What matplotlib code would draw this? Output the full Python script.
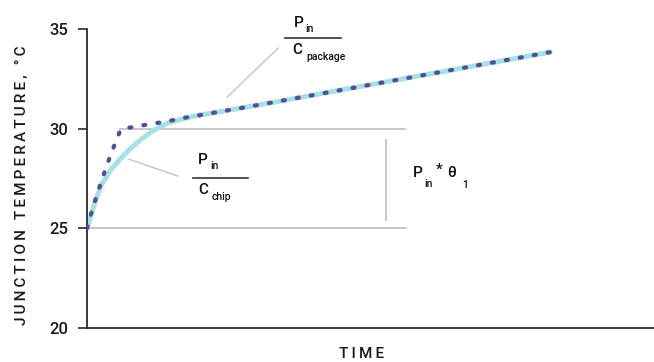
import matplotlib
matplotlib.use("Agg")
import matplotlib.pyplot as plt

# Data (time in arbitrary units, temperature in °C)
chip_time = [0, 0.65, 1.53, 2.70, 4.18, 5.94, 7.71, 9.75, 11.82, 14.16, 17.11, 18.87,
             28.7, 42.9, 62.3, 81.7]
chip_temp = [25.0, 25.6, 26.42, 27.26, 27.93, 28.51, 29.02, 29.51, 29.93, 30.27, 30.51, 30.63,
             31.11, 31.84, 32.84, 33.84]

pkg_time = [0, 1.0, 2.0, 3.0, 4.0, 5.0, 5.9, 6.2, 8.6, 11.2, 13.9, 16.5, 18.9,
            28.7, 42.9, 62.3, 81.7]
pkg_temp = [25.0, 26.0, 26.9, 27.75, 28.55, 29.3, 29.93, 30.0, 30.1, 30.24, 30.35, 30.51, 30.63,
            31.11, 31.84, 32.84, 33.84]

yticks = [20, 25, 30, 35]
ylabel = "JUNCTION TEMPERATURE, °C"
xlabel = "TIME"

plt.rcParams['font.family'] = ['Roboto', 'DejaVu Sans']

fig = plt.figure(figsize=(6.54, 3.62), dpi=100)
ax = fig.add_axes([87/654, 34/362, 1 - 87/654, (328-29)/362])
ax.set_xlim(0, 100)
ax.set_ylim(20, 35)

grey = '#c4c4c4'
# reference lines
ax.plot([5.9, 56.0], [30, 30], color=grey, lw=1.3, zorder=1)
ax.plot([0, 56.2], [25, 25], color=grey, lw=1.3, zorder=1)
ax.plot([52.7, 52.7], [25.42, 29.43], color=grey, lw=1.3, zorder=1)
# leader lines
ax.plot([24.7, 33.7], [31.58, 34.04], color=grey, lw=1.0, zorder=1)
ax.plot([7.4, 16.0], [28.47, 27.62], color=grey, lw=1.0, zorder=1)

ax.plot(chip_time, chip_temp, color='#a6e1e3', lw=3.6, solid_capstyle='round',
        solid_joinstyle='round', zorder=2)
ax.plot(pkg_time, pkg_temp, color='#574c98', lw=3.0, linestyle=(0, (0.5, 2.9)),
        dash_capstyle='round', zorder=3)

for s in ['top', 'right']:
    ax.spines[s].set_visible(False)
for s in ['left', 'bottom']:
    ax.spines[s].set_color('#2b2b2b')
    ax.spines[s].set_linewidth(1.3)

ax.set_xticks([])
ax.set_yticks(yticks)
ax.set_yticklabels([str(v) for v in yticks], fontsize=12, fontweight='medium')
ax.tick_params(axis='y', length=6.5, width=1.2, color='#2b2b2b', pad=7, labelcolor='#1a1a1a')


def spaced(s):
    return "\u2009".join(list(s))


ax.text(-11.5, 27.15, spaced(ylabel), rotation=90, ha='center', va='center', fontsize=11,
        fontweight='medium', color='#1a1a1a', clip_on=False)
ax.text(48.5, 18.7, spaced(xlabel), ha='center', va='center', fontsize=11,
        fontweight='medium', color='#1a1a1a', clip_on=False)

fs_big = 11
fs_small = 7.5
tc = '#111111'


def px2data(px, py):
    return ((px - 87) / 5.67, 20 + (328 - py) / 19.93)


def t(px, py, s, fs, ha='left'):
    x, y = px2data(px, py)
    ax.text(x, y, s, fontsize=fs, ha=ha, va='center', color=tc, fontweight='medium',
            clip_on=False)


# package fraction
t(294, 23, "P", fs_big)
t(305, 29.5, "in", fs_small)
x0, y0 = px2data(285, 38.5)
x1, _ = px2data(341, 38.5)
ax.plot([x0, x1], [y0, y0], color='#333333', lw=1.2, clip_on=False)
t(292, 50.5, "C", fs_big)
t(306, 57.5, "package", fs_small)

# chip fraction
t(198, 160, "P", fs_big)
t(210, 166.5, "in", fs_small)
x0, y0 = px2data(193, 178)
x1, _ = px2data(248, 178)
ax.plot([x0, x1], [y0, y0], color='#333333', lw=1.2)
t(198, 190.5, "C", fs_big)
t(212, 197, "chip", fs_small)

# Pin * theta1
t(413, 173, "P", fs_big)
t(424, 184, "in", fs_small)
t(436, 170, "*", fs_big)
t(447, 173, "θ", fs_big)
t(462, 185, "1", fs_small)

fig.savefig("out.png", dpi=100)
